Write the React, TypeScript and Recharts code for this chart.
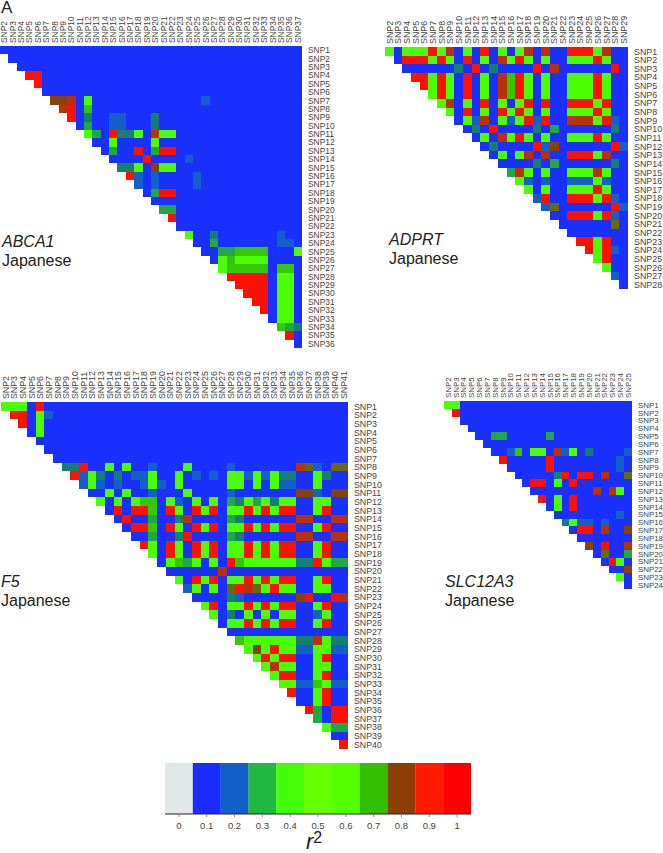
import { Bar, BarChart, Cell, Scatter, ScatterChart, XAxis, YAxis } from "recharts";

// one letter per cell, r2 class; "." = no cell, spaces are only for reading
const cellColors: Record<string, string> = {
  b: "#1a30ff",
  c: "#1260c8",
  t: "#158070",
  d: "#1fa844",
  k: "#35c800",
  g: "#4cff00",
  o: "#6a6a08",
  n: "#8b4008",
  m: "#bc3008",
  r: "#ff1000",
};

const abca1Rows = [
  "bbbbb bbbbb bbbbb bbbbb bbbbb bbbbb bbbbb b",
  ".bbbb bbbbb bbbbb bbbbb bbbbb bbbbb bbbbb b",
  "..bbb bbbbb bbbbb bbbbb bbbbb bbbbb bbbbb b",
  "...rr bbbbb bbbbb bbbbb bbbbb bbbbb bbbbb b",
  "....r bbbbb bbbbb bbbbb bbbbb bbbbb bbbbb b",
  "..... bbbbb bbbbb bbbbb bbbbb bbbbb bbbbb b",
  "..... .nnmb gbbbb bbbbb bbbbc bbbbb bbbbb b",
  "..... ..mrb kbbbb bbbbb bbbbb bbbbb bbbbb b",
  "..... ...rb tbbcc bbbtb bbbbb bbbbb bbbbb b",
  "..... ....b dbbcc bbbtb bbbbb bbbbb bbbbb b",
  "..... ..... gdbrt tgbmg gbbbb bbbbb bbbbb b",
  "..... ..... .bbgb bbbgb bbbbb bbbbb bbbbb b",
  "..... ..... ..bdb brbdr rbbbb bbbbb bbbbb b",
  "..... ..... ...bb bbrbb bbcbb bbbbb bbbbb b",
  "..... ..... ....t tgbng gbbbb bbbbb bbbbb b",
  "..... ..... ..... rcbcb bbbcb bbbbb bbbbb b",
  "..... ..... ..... .cbcb bbbcb bbbbb bbbbb b",
  "..... ..... ..... ..bdr rbbbb bbbbb bbbbb b",
  "..... ..... ..... ...bb bbbbb bbbbb bbbbb b",
  "..... ..... ..... ....d dbbbb bbbbb bbbbb b",
  "..... ..... ..... ..... rbbbb bbbbb bbbbb b",
  "..... ..... ..... ..... .bbbb bbbbb bbbbb b",
  "..... ..... ..... ..... ..gbb tbbbb bbbcb b",
  "..... ..... ..... ..... ...bb dbbbb bbbcc b",
  "..... ..... ..... ..... ....b bddkk kkbbb g",
  "..... ..... ..... ..... ..... bgkgg ggbbb b",
  "..... ..... ..... ..... ..... .gkkk kkbkk b",
  "..... ..... ..... ..... ..... ..rrr rrbgg b",
  "..... ..... ..... ..... ..... ...rr rrbgg b",
  "..... ..... ..... ..... ..... ....r rrbgg b",
  "..... ..... ..... ..... ..... ..... rrbgg b",
  "..... ..... ..... ..... ..... ..... .rbgg b",
  "..... ..... ..... ..... ..... ..... ..bgg b",
  "..... ..... ..... ..... ..... ..... ...kd t",
  "..... ..... ..... ..... ..... ..... ....r b",
  "..... ..... ..... ..... ..... ..... ..... b",
];

const adprtRows = [
  "gbggg rgmbg brbgb gmbmb brrrg mbb",
  ".brrr grgbr bgbmg rgbgb bgggr gbb",
  "..bbb bbbtb rbtbb bbrbm bbbbb brb",
  "...rr grgbr bgbmk rgbgb bgggr gbb",
  "....r grgbr bgbmk rgbgb bgggr gbb",
  "..... grgbr bgbmk rgbgb bgggr gbb",
  "..... .gmbg brbgb grbrb brrrg rbb",
  "..... ..gbr bgbrg rgbgb bgggr gbb",
  "..... ...bg cmbgc grcrb bmmmg rcb",
  "..... ....b tbrbb bbtbd bbbbb btb",
  "..... ..... bgbmg rgbgb bgggr gbb",
  "..... ..... .btbb bbrcn bbbbb brc",
  "..... ..... ..bgb gmbmb brrrg mbb",
  "..... ..... ...bb bbtbd bbbbb btb",
  "..... ..... ....d mgbgb bgggm gbb",
  "..... ..... ..... gcbcb bcccg cbb",
  "..... ..... ..... .gbgb bgggr gbb",
  "..... ..... ..... ..crb brrrg rcb",
  "..... ..... ..... ...co bbbbb brc",
  "..... ..... ..... ....b brrrg rcb",
  "..... ..... ..... ..... bbbbb bob",
  "..... ..... ..... ..... .bbbb bbb",
  "..... ..... ..... ..... ..rrg rbb",
  "..... ..... ..... ..... ...rg rcb",
  "..... ..... ..... ..... ....g rbb",
  "..... ..... ..... ..... ..... gbb",
  "..... ..... ..... ..... ..... .cb",
  "..... ..... ..... ..... ..... ..b",
];

const f5Rows = [
  "gggbr bbbbb bbbbb bbbbb bbbbb bbbbb bbbbb bbbbb",
  ".rrbg cbbbb bbbbb bbbbb bbbbb bbbbb bbbbb bbbbb",
  "..rbg bbbbb bbbbb bbbbb bbbbb bbbbb bbbbb bbbbb",
  "...bg bbbbb bbbbb bbbbb bbbbb bbbbb bbbbb bbbbb",
  "....b bbbbb bbbbb bbbbb bbbbb bbbbb bbbbb bbbbb",
  "..... bbbbb bbbbb bbbbb bbbbb bbbbb bbbbb bbbbb",
  "..... .bbbb bbbbb bbbbb bbbbb bbbbb bbbbb bbbbb",
  "..... ..ttr bbgbg bbcbb bgbbb bcbbb bbbbm ocboo",
  "..... ...rc gtbtb ccgbb gbcbc bggcg cgttb bgtbb",
  "..... ....c gcbcb bcgcb gbbbb bggbg bgccb bgbbb",
  "..... ..... bbgbg bbcbb bgbbb bcbbb bbbbn ncbnn",
  "..... ..... .gbgb gkkbg cbgbg bdtgd gtggb bggbb",
  "..... ..... ..brb rrkbr gbrgr bggrg rgrrb bgrbb",
  "..... ..... ...br bbdbb tmbbb bdtbb bbbbm mbbmm",
  "..... ..... ....b rrkbr gbrgr bggrg rgrrb bgrbb",
  "..... ..... ..... bbdbb trbbb bdtbb bbbbm mbbmm",
  "..... ..... ..... .rgbr gbrgr bggrg rgrrb bgrbb",
  "..... ..... ..... ..gbr gbrgr bggrg rgrrb bgrbb",
  "..... ..... ..... ...bg kdgbg brkgg ggggt trgdd",
  "..... ..... ..... ....b bbbbb mbbbb bbbbb bbbbb",
  "..... ..... ..... ..... gbrgr bggrg rgrrb bgrbb",
  "..... ..... ..... ..... .cgbg bormo grggb bggbb",
  "..... ..... ..... ..... ..bbb btcbb bbbbn rbbrm",
  "..... ..... ..... ..... ...gr bggrg rgrrb bgrbb",
  "..... ..... ..... ..... ....g btbgb gbggb bcgbb",
  "..... ..... ..... ..... ..... bggrg rgrrb bgrbb",
  "..... ..... ..... ..... ..... .bbbb bbbbb bbbbb",
  "..... ..... ..... ..... ..... ..kgg ggggt tmgtt",
  "..... ..... ..... ..... ..... ...gn grggc cggcc",
  "..... ..... ..... ..... ..... ....g rgrrb bgrbb",
  "..... ..... ..... ..... ..... ..... gmggb bggbb",
  "..... ..... ..... ..... ..... ..... .grrb bgrbb",
  "..... ..... ..... ..... ..... ..... ..ggc ckgcc",
  "..... ..... ..... ..... ..... ..... ...rb bgrbb",
  "..... ..... ..... ..... ..... ..... ....b bgrbb",
  "..... ..... ..... ..... ..... ..... ..... rdbrr",
  "..... ..... ..... ..... ..... ..... ..... .dbrr",
  "..... ..... ..... ..... ..... ..... ..... ..gdd",
  "..... ..... ..... ..... ..... ..... ..... ...bb",
  "..... ..... ..... ..... ..... ..... ..... ....r",
];

const slc12a3Rows = [
  "ggbbb bbbbb bbbbb bbbbb bbbb",
  ".rbbb bbbbb bbbbb bbbbb bbbb",
  "..bbb bbbbb bbbbb bbbbb bbbb",
  "...bb bbbbb bbbbb bbbbb bbbb",
  "....b bddbb bbbdb bbbbb bbbb",
  "..... bbbbb bbbbb bbbbb bbbb",
  "..... .bbck bggbm cgbtb bbbc",
  "..... ..rbb bbbrb bbbbb bbcb",
  "..... ...bb bbbrb bbbbb bbcb",
  "..... ....b bbbbt rbrrb mbbo",
  "..... ..... brrbg brbbb bbbb",
  "..... ..... .bbbb bbbbm bmgb",
  "..... ..... ..rbg brbbb bbbb",
  "..... ..... ...bg brbbb bbbb",
  "..... ..... ....b bbbbb bbcb",
  "..... ..... ..... tgccb cbbb",
  "..... ..... ..... .brrb mbbn",
  "..... ..... ..... ..bbb bbbb",
  "..... ..... ..... ...nb rbbm",
  "..... ..... ..... ....b obbd",
  "..... ..... ..... ..... brgb",
  "..... ..... ..... ..... .bbn",
  "..... ..... ..... ..... ..gb",
  "..... ..... ..... ..... ...b",
];

const legendLevels = ["0", "0.1", "0.2", "0.3", "0.4", "0.5", "0.6", "0.7", "0.8", "0.9", "1"];
const legendColors = ["#e2e8e8", "#1a2cff", "#1060c8", "#20b840", "#44ff0a", "#66ff00", "#55ff00", "#33c000", "#8b3f05", "#ff1a00", "#ff0000"];

const textColor = "#444";
const font = "'Liberation Sans', Arial, sans-serif";

function toCells(rows: string[]) {
  const cells: { x: number; y: number; fill: string }[] = [];
  rows.forEach((row, r) => {
    row.replace(/\s/g, "").split("").forEach((code, c) => {
      if (code !== ".") cells.push({ x: c + 0.5, y: r + 0.5, fill: cellColors[code] });
    });
  });
  return cells;
}

type PanelProps = {
  rows: string[];
  left: number;
  top: number;
  plotW: number;
  plotH: number;
  fontSize: number;
  gene: string;
  captionX: number;
  captionY: number;
};

function LdPanel({ rows, left, top, plotW, plotH, fontSize, gene, captionX, captionY }: PanelProps) {
  const n = rows.length;
  const ticks = rows.map((_, i) => i + 0.5);
  const cellW = plotW / n;
  const cellH = plotH / n;
  const axisW = 36;

  const CellRect = (p: any) => (
    <rect
      x={p.cx - cellW / 2}
      y={p.cy - cellH / 2}
      width={cellW}
      height={cellH}
      fill={p.payload.fill}
      shapeRendering="crispEdges"
    />
  );

  const TopTick = (p: any) => (
    <text
      transform={`translate(${p.x + fontSize * 0.36},${top - 3}) rotate(-90)`}
      fontSize={fontSize}
      fontFamily={font}
      fill={textColor}
    >
      {`SNP${Math.floor(p.payload.value) + 2}`}
    </text>
  );

  const RightTick = (p: any) => (
    <text x={plotW + 6} y={p.y + fontSize * 0.36} fontSize={fontSize} fontFamily={font} fill={textColor}>
      {`SNP${Math.floor(p.payload.value) + 1}`}
    </text>
  );

  return (
    <>
      <div style={{ position: "absolute", left, top: 0 }}>
        <ScatterChart width={plotW + axisW} height={top + plotH + 4} margin={{ top: 0, right: 0, bottom: 4, left: 0 }}>
          <XAxis
            type="number"
            dataKey="x"
            orientation="top"
            domain={[0, n]}
            ticks={ticks}
            interval={0}
            height={top}
            axisLine={false}
            tickLine={false}
            tick={TopTick}
          />
          <YAxis
            type="number"
            dataKey="y"
            orientation="right"
            reversed
            domain={[0, n]}
            ticks={ticks}
            interval={0}
            width={axisW}
            axisLine={false}
            tickLine={false}
            tick={RightTick}
          />
          <Scatter data={toCells(rows)} shape={CellRect} isAnimationActive={false} />
        </ScatterChart>
      </div>
      <div
        style={{
          position: "absolute",
          left: captionX,
          top: captionY,
          fontFamily: font,
          fontSize: 16,
          lineHeight: "18.5px",
          color: "#222",
        }}
      >
        <div style={{ fontStyle: "italic" }}>{gene}</div>
        <div>Japanese</div>
      </div>
    </>
  );
}

function R2Legend() {
  const data = legendLevels.map((level) => ({ level, span: 1 }));
  return (
    <div style={{ position: "absolute", left: 165, top: 763 }}>
      <BarChart width={306} height={72} data={data} barCategoryGap={0} margin={{ top: 0, right: 0, bottom: 0, left: 0 }}>
        <XAxis
          dataKey="level"
          interval={0}
          height={21}
          stroke="#222"
          tickLine={{ stroke: "#888" }}
          tickSize={3}
          tickMargin={5}
          tick={{ fontSize: 9.5, fontFamily: font, fill: textColor }}
        />
        <YAxis hide domain={[0, 1]} />
        <Bar dataKey="span" isAnimationActive={false}>
          {data.map((d, i) => (
            <Cell key={d.level} fill={legendColors[i]} />
          ))}
        </Bar>
      </BarChart>
    </div>
  );
}

export default function App() {
  return (
    <div style={{ position: "absolute", left: 0, top: 0, width: 663, height: 853, background: "#fff", overflow: "hidden" }}>
      <div style={{ position: "absolute", left: 1, top: 0, fontFamily: font, fontSize: 17, lineHeight: "16px", color: "#222" }}>A</div>
      <LdPanel rows={abca1Rows} left={0} top={46} plotW={302} plotH={302} fontSize={8.4} gene="ABCA1" captionX={2} captionY={233} />
      <LdPanel rows={adprtRows} left={385} top={47} plotW={243} plotH={242} fontSize={8.9} gene="ADPRT" captionX={389} captionY={231} />
      <LdPanel rows={f5Rows} left={1} top={402} plotW={347} plotH={347} fontSize={8.8} gene="F5" captionX={1} captionY={573} />
      <LdPanel rows={slc12a3Rows} left={444} top={401} plotW={188} plotH={188} fontSize={7.9} gene="SLC12A3" captionX={445} captionY={573} />
      <R2Legend />
      <div style={{ position: "absolute", left: 306, top: 831, fontFamily: font, fontSize: 22, lineHeight: "22px", fontStyle: "italic", color: "#222" }}>
        r<sup style={{ fontSize: 16, fontStyle: "normal", verticalAlign: "6px", lineHeight: 0 }}>2</sup>
      </div>
    </div>
  );
}
